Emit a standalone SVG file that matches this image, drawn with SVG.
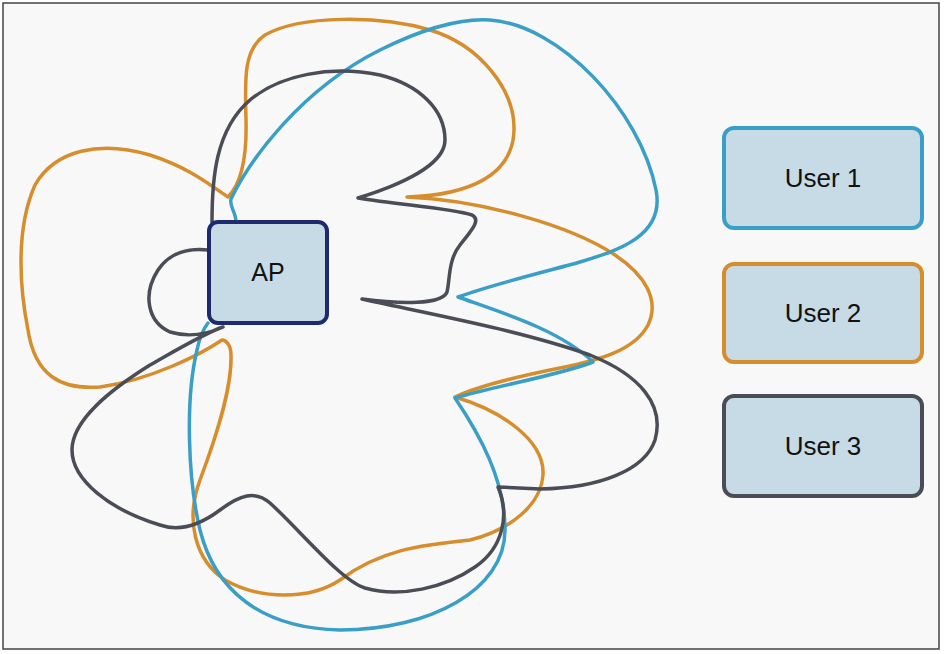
<svg xmlns="http://www.w3.org/2000/svg" width="944" height="654" viewBox="0 0 944 654">
  <style>
    .pat { fill: none; stroke-width: 3.5; stroke-linejoin: round; stroke-linecap: round; }
    .blue { stroke: #3a9fc6; }
    .orange { stroke: #d68d2c; }
    .gray { stroke: #4a4d56; }
    .box { fill: #c6dbe5; stroke-width: 4; }
    .lbl { font-family: "Liberation Sans", Arial, sans-serif; fill: #111; text-anchor: middle; }
  </style>
  <rect x="0" y="0" width="944" height="654" fill="#ffffff"/>
  <rect x="3" y="3" width="936" height="646" fill="#f8f8f8" stroke="#444" stroke-width="1.5"/>
  <g id="patterns">
    <path class="pat orange" d="M 228 197 C 240 185, 247 160, 246 120 C 245 80, 243 50, 265 35 C 300 15, 380 15, 430 30 C 480 45, 515 90, 514 130 C 513 175, 470 195, 407 197 C 480 200, 570 225, 615 255 C 645 275, 660 300, 648 325 C 635 350, 600 360, 560 368 C 520 376, 480 385, 455 397 C 500 410, 545 440, 543 475 C 541 505, 510 530, 470 540 C 420 545, 380 550, 340 580 C 310 600, 260 600, 225 580 C 195 560, 185 520, 200 480 C 215 440, 232 390, 231 355 C 231 345, 226 340, 222 340 C 200 355, 150 380, 100 387 C 60 390, 35 375, 28 330 C 20 290, 15 230, 35 185 C 55 150, 100 140, 150 155 C 190 168, 210 185, 228 197 Z"/>
    <path class="pat blue" d="M 236 222 C 236 212, 229 206, 231 199 C 250 160, 300 90, 380 50 C 420 30, 460 18, 490 20 C 560 25, 640 110, 656 190 C 665 235, 620 250, 580 262 C 560 268, 500 282, 458 297 C 500 312, 560 330, 593 362 C 560 375, 500 385, 455 398 C 480 435, 505 480, 505 530 C 505 590, 430 630, 340 630 C 260 628, 215 590, 200 530 C 188 480, 185 400, 197 350 C 200 335, 204 328, 208 323"/>
    <path class="pat gray" d="M 212 222 C 212 180, 215 130, 250 100 C 280 75, 330 65, 380 75 C 420 85, 445 110, 445 140 C 445 165, 400 185, 358 198 C 400 205, 450 208, 472 215 C 482 220, 470 232, 460 245 C 448 260, 450 280, 447 292 C 442 305, 400 304, 362 299 C 420 312, 520 330, 590 355 C 640 375, 665 405, 655 440 C 645 470, 600 488, 540 489 L 498 487 C 510 515, 503 548, 475 567 C 445 588, 400 598, 365 588 C 340 580, 300 530, 270 503 C 255 490, 240 495, 220 510 C 200 525, 180 532, 160 525 C 110 510, 72 480, 72 450 C 72 420, 110 390, 150 365 C 180 348, 205 333, 223 327 C 210 333, 190 338, 170 332 C 148 322, 142 295, 158 270 C 170 252, 190 248, 208 250"/>
  </g>
  <g id="ap">
    <rect class="box" x="209" y="222" width="118" height="101" rx="9" stroke="#1e2a6e"/>
    <text class="lbl" x="268" y="281" font-size="25">AP</text>
  </g>
  <g id="user1">
    <rect class="box" x="724" y="128" width="198" height="100" rx="10" stroke="#3a9fc6"/>
    <text class="lbl" x="823" y="187" font-size="26">User 1</text>
  </g>
  <g id="user2">
    <rect class="box" x="724" y="264" width="198" height="98" rx="10" stroke="#d68d2c"/>
    <text class="lbl" x="823" y="322" font-size="26">User 2</text>
  </g>
  <g id="user3">
    <rect class="box" x="724" y="396" width="198" height="100" rx="10" stroke="#4a4d56"/>
    <text class="lbl" x="823" y="455" font-size="26">User 3</text>
  </g>
</svg>
